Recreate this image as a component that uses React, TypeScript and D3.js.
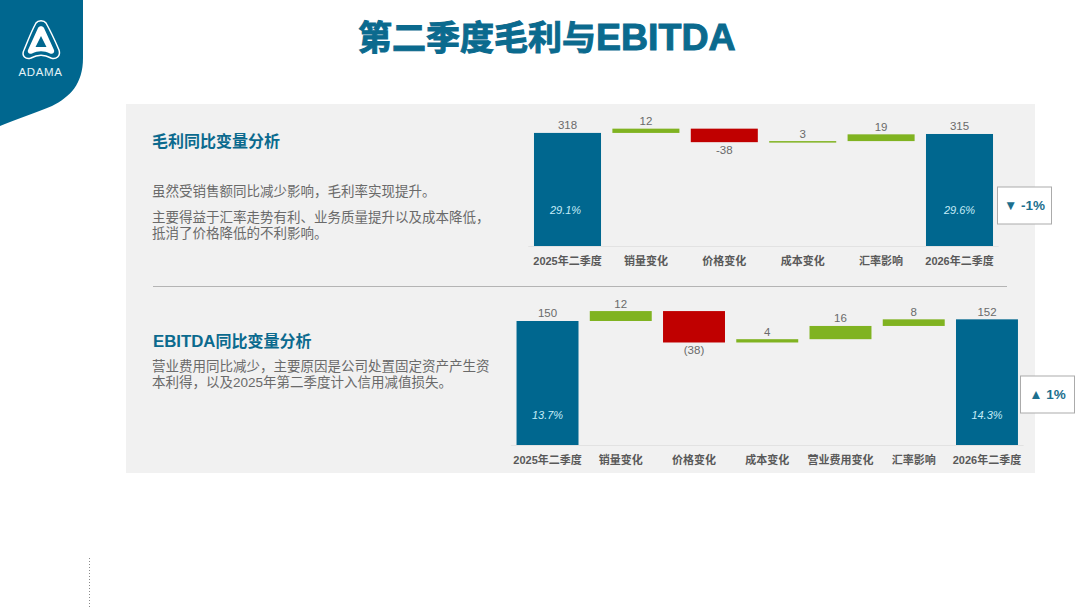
import { useEffect, useRef } from "react";
import * as d3 from "d3";

const W = 1080;
const H = 608;

const BLUE = "#00678f";
const GREEN = "#80b321";
const RED = "#c00000";
const FONT = '"Liberation Sans", "Noto Sans CJK SC", sans-serif';

// gross profit
const gpCategories = ["2025年二季度", "销量变化", "价格变化", "成本变化", "汇率影响", "2026年二季度"];
const gpStart = 318;
const gpDeltas = [12, -38, 3, 19];
const gpEnd = 315;
const gpLabels = ["318", "12", "-38", "3", "19", "315"];
const gpRates = ["29.1%", "29.6%"];

// EBITDA
const ebCategories = ["2025年二季度", "销量变化", "价格变化", "成本变化", "营业费用变化", "汇率影响", "2026年二季度"];
const ebStart = 150;
const ebDeltas = [12, -38, 4, 16, 8];
const ebEnd = 152;
const ebLabels = ["150", "12", "(38)", "4", "16", "8", "152"];
const ebRates = ["13.7%", "14.3%"];

type Opts = {
  categories: string[];
  start: number;
  deltas: number[];
  end: number;
  labels: string[];
  rates: string[];
  xRange: [number, number];
  padding: number;
  baseY: number;
  pxPerUnit: number;
  rateY: number;
  rateDx: number;
};

function drawWaterfall(svg: d3.Selection<SVGSVGElement, unknown, null, undefined>, o: Opts) {
  const maxVal = 400;
  const x = d3.scaleBand<string>().domain(o.categories).range(o.xRange).paddingInner(o.padding).paddingOuter(o.padding / 2);
  const y = d3.scaleLinear().domain([0, maxVal]).range([o.baseY, o.baseY - maxVal * o.pxPerUnit]);

  // running total turned into [from, to] spans
  let running = o.start;
  const spans: [number, number][] = [[0, o.start]];
  o.deltas.forEach((d) => {
    spans.push([running, running + d]);
    running += d;
  });
  spans.push([0, o.end]);

  const g = svg.append("g");

  g.append("line")
    .attr("x1", o.xRange[0])
    .attr("x2", o.xRange[1])
    .attr("y1", o.baseY + 0.5)
    .attr("y2", o.baseY + 0.5)
    .attr("stroke", "#e2e2e2");

  spans.forEach(([a, b], i) => {
    const cat = o.categories[i];
    const isTotal = i === 0 || i === spans.length - 1;
    const top = Math.min(y(a), y(b));
    const bottom = Math.max(y(a), y(b));
    g.append("rect")
      .attr("x", x(cat)!)
      .attr("y", top)
      .attr("width", x.bandwidth())
      .attr("height", Math.max(bottom - top, 1.5))
      .attr("fill", isTotal ? BLUE : b >= a ? GREEN : RED);

    const below = !isTotal && b < a;
    g.append("text")
      .attr("x", x(cat)! + x.bandwidth() / 2)
      .attr("y", below ? bottom + 12 : top - 3.5)
      .attr("text-anchor", "middle")
      .attr("font-size", 11.5)
      .attr("fill", "#6a6a6a")
      .text(o.labels[i]);
  });

  [0, spans.length - 1].forEach((i, k) => {
    const cat = o.categories[i];
    g.append("text")
      .attr("x", x(cat)! + x.bandwidth() / 2 + (k === 0 ? o.rateDx : 0))
      .attr("y", o.rateY)
      .attr("text-anchor", "middle")
      .attr("font-size", 11)
      .attr("font-style", "italic")
      .attr("fill", "#c4ecf7")
      .text(o.rates[k]);
  });

  const axis = g
    .append("g")
    .attr("transform", `translate(0,${o.baseY + 8})`)
    .call(d3.axisBottom(x).tickSize(0));
  axis.select(".domain").remove();
  axis
    .selectAll("text")
    .attr("font-family", FONT)
    .attr("font-size", 11)
    .attr("font-weight", 700)
    .attr("fill", "#595959");
}

function drawText(svg: d3.Selection<SVGSVGElement, unknown, null, undefined>) {
  const title = svg.append("text")
    .attr("x", 358)
    .attr("y", 50)
    .attr("font-size", 34)
    .attr("font-weight", 700)
    .attr("fill", "#0b6a8e")
    .attr("stroke", "#0b6a8e")
    .attr("stroke-width", 1);
  title.append("tspan").text("第二季度毛利与");
  title.append("tspan").attr("font-size", 37.5).text("EBITDA");

  const h1 = svg.append("text").attr("x", 152).attr("y", 147).attr("font-size", 16).attr("font-weight", 700).attr("fill", "#0b6a8e");
  h1.text("毛利同比变量分析");
  const h2 = svg.append("text").attr("x", 153).attr("y", 347).attr("font-size", 16).attr("font-weight", 700).attr("fill", "#0b6a8e");
  h2.append("tspan").attr("font-size", 16.8).text("EBITDA");
  h2.append("tspan").text("同比变量分析");

  // \uFF0C is the full-width comma
  const body: [string, number][] = [
    ["虽然受销售额同比减少影响\uFF0C毛利率实现提升。", 196],
    ["主要得益于汇率走势有利、业务质量提升以及成本降低\uFF0C", 222],
    ["抵消了价格降低的不利影响。", 238],
    ["营业费用同比减少\uFF0C主要原因是公司处置固定资产产生资", 371],
    ["本利得\uFF0C以及2025年第二季度计入信用减值损失。", 387],
  ];
  body.forEach(([t, by]) => {
    svg.append("text")
      .attr("x", 152)
      .attr("y", by)
      .attr("font-size", 13.5)
      .attr("fill", "#6a6a6a")
      .text(t);
  });
}

function drawCallout(
  svg: d3.Selection<SVGSVGElement, unknown, null, undefined>,
  bx: number,
  by: number,
  bw: number,
  bh: number,
  label: string,
) {
  svg.append("rect")
    .attr("x", bx)
    .attr("y", by)
    .attr("width", bw)
    .attr("height", bh)
    .attr("fill", "#fff")
    .attr("stroke", "#ababab");
  svg.append("text")
    .attr("x", bx + bw / 2)
    .attr("y", by + bh / 2 + 4)
    .attr("text-anchor", "middle")
    .attr("font-size", 13.5)
    .attr("font-weight", 700)
    .attr("fill", "#1c6f8e")
    .text(label);
}

function drawLogo(svg: d3.Selection<SVGSVGElement, unknown, null, undefined>) {
  svg.append("path")
    .attr("d", "M0,0H83V58C83,84 70,97 52,106C36,113 16,119 0,126Z")
    .attr("fill", BLUE);
  svg.append("path")
    .attr("d", "M36,23C38,20 44,20 46,23C51,32 56,43 59,50C61,56 56,60 51,58C44,54 38,54 31,58C26,60 21,56 24,50C27,43 31,32 36,23Z")
    .attr("fill", "none")
    .attr("stroke", "#fff")
    .attr("stroke-width", 1.5);
  svg.append("path")
    .attr("fill-rule", "evenodd")
    .attr("d", "M38,28C39,25.5 43,25.5 44,28L54,50C55,53 52,54.5 50,53.5C44,50.5 38,50.5 32,53.5C30,54.5 27,53 28,50ZM41,36L35.5,47H46.5Z")
    .attr("fill", "#fff");
  svg.append("text")
    .attr("x", 40.5)
    .attr("y", 76)
    .attr("text-anchor", "middle")
    .attr("font-size", 11.5)
    .attr("letter-spacing", 0.6)
    .attr("fill", "#e4f3f8")
    .text("ADAMA");
}

export default function App() {
  const svgRef = useRef<SVGSVGElement>(null);

  useEffect(() => {
    if (!svgRef.current) return;
    const svg = d3.select(svgRef.current);
    svg.selectAll("*").remove();

    svg.append("rect").attr("x", 126).attr("y", 104).attr("width", 909).attr("height", 369).attr("fill", "#f1f1f1");
    svg.append("line").attr("x1", 153).attr("x2", 1007).attr("y1", 286.5).attr("y2", 286.5).attr("stroke", "#b4b4b4");
    svg.append("line")
      .attr("x1", 89.5)
      .attr("x2", 89.5)
      .attr("y1", 558)
      .attr("y2", 608)
      .attr("stroke", "#8a8a8a")
      .attr("stroke-dasharray", "1 2");

    drawLogo(svg);
    drawText(svg);

    drawWaterfall(svg, {
      categories: gpCategories,
      start: gpStart,
      deltas: gpDeltas,
      end: gpEnd,
      labels: gpLabels,
      rates: gpRates,
      xRange: [528.3, 998.7],
      padding: 0.145,
      baseY: 246,
      pxPerUnit: 0.3556,
      rateY: 214,
      rateDx: -2,
    });
    drawWaterfall(svg, {
      categories: ebCategories,
      start: ebStart,
      deltas: ebDeltas,
      end: ebEnd,
      labels: ebLabels,
      rates: ebRates,
      xRange: [510.9, 1023.6],
      padding: 0.154,
      baseY: 445,
      pxPerUnit: 0.8267,
      rateY: 419,
      rateDx: 0,
    });

    drawCallout(svg, 997.5, 187, 54, 37, "▼ -1%");
    drawCallout(svg, 1020.5, 376, 54, 37, "▲ 1%");
  }, []);

  return (
    <svg
      ref={svgRef}
      width={W}
      height={H}
      viewBox={`0 0 ${W} ${H}`}
      fontFamily={FONT}
      style={{ position: "absolute", left: 0, top: 0, background: "#fff" }}
    />
  );
}
